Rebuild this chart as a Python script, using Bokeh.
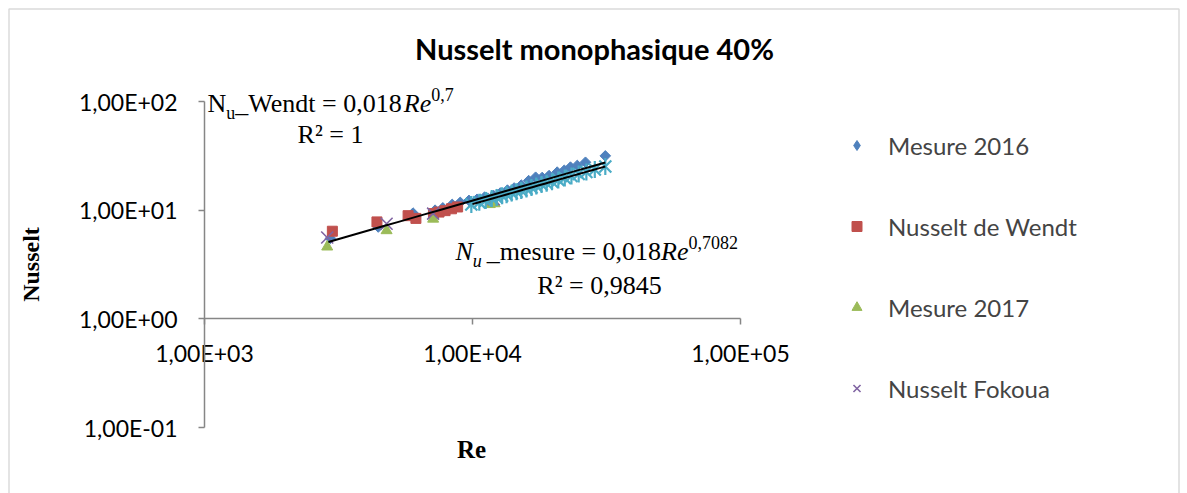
import math
from bokeh.plotting import figure
from bokeh.models import (Range1d, FixedTicker, CustomJSTickFormatter, Label,
                          Legend, LegendItem, BoxAnnotation)
from bokeh.embed import file_html
from bokeh.resources import INLINE

# ---------------- data ----------------
re_2016 = [2950, 4450, 6000, 7250, 7750, 8400, 9000, 9700, 10400, 11100, 12000, 12700,
           13500, 14300, 15200, 16200, 17200, 18200, 19300, 20700, 22000, 23200, 24600,
           26400, 31300]
nu_2016 = [5.5, 7.0, 9.4, 10.0, 10.5, 11.3, 11.8, 12.3, 12.6, 13.2, 13.6, 14.4,
           15.3, 16.0, 17.0, 18.7, 20.1, 20.0, 20.8, 22.4, 23.3, 24.9, 25.8,
           27.6, 31.6]

re_wendt = [3000, 4400, 5750, 6150, 7150, 7500, 7900, 8350, 8800]
nu_wendt = [6.4, 7.8, 8.9, 8.4, 9.3, 9.6, 9.9, 10.3, 10.7]

re_2017 = [2870, 4780, 7130, 11600, 12100]
nu_2017 = [4.6, 6.5, 8.3, 11.3, 11.5]

re_fokoua = [2870, 4780, 7130, 12000]
nu_fokoua = [5.6, 7.5, 9.3, 12.6]

re_calc = [9900, 10600, 11200, 11800, 12300, 12900, 13400, 14000, 14600, 15200, 15900,
           16600, 17300, 18100, 18900, 19800, 20900, 22100, 23400, 24900, 26600, 28600,
           31300]
nu_calc = [11.3, 11.8, 12.3, 12.8, 13.1, 13.6, 13.9, 14.4, 14.8, 15.2, 15.7,
           16.2, 16.7, 17.2, 17.7, 18.3, 19.0, 19.8, 20.6, 21.5, 22.5, 23.7,
           25.2]

# trendlines as given by their displayed equations: Nu = a * Re^b over [Re_min, Re_max]
trend_a = [0.018, 0.018]
trend_b = [0.7082, 0.7]
trend_re_min = [2900, 10000]
trend_re_max = [31300, 31300]

x_ticks = [1e3, 1e4, 1e5]
y_ticks = [0.1, 1, 10, 100]

series_names = ["Mesure 2016", "Nusselt de Wendt", "Mesure 2017", "Nusselt Fokoua"]

# ---------------- layout geometry (page pixels) ----------------
W, H = 1187, 493
AX_L, AX_R = 204, 740          # page x of Re = 1e3 and 1e5
AX_T, AX_B = 101, 427          # page y of Nu = 1e2 and 1e-1
DX = (AX_R - AX_L) / 2         # px per decade
DY = (AX_B - AX_T) / 3

x_lo = 10 ** (3 - AX_L / DX)
x_hi = 10 ** (5 + (W - AX_R) / DX)
y_hi = 10 ** (2 + AX_T / DY)
y_lo = 10 ** (-1 - (H - AX_B) / DY)

p = figure(width=W, height=H, x_axis_type="log", y_axis_type="log",
           x_range=Range1d(x_lo, x_hi), y_range=Range1d(y_lo, y_hi),
           output_backend="svg", toolbar_location=None,
           min_border_left=0, min_border_right=0, min_border_top=0, min_border_bottom=0)
p.grid.visible = False
p.outline_line_color = None
p.background_fill_color = "white"
p.border_fill_color = "white"


def X(px):
    return 10 ** (3 + (px - AX_L) / DX)


def Y(py):
    return 10 ** (2 - (py - AX_T) / DY)


# chart-area border (its bottom edge lies below the visible window)
BORDER = "#868686"
p.add_layout(BoxAnnotation(left=X(8.5), right=X(1178.5), top=Y(8.5), bottom=Y(700),
                           fill_alpha=0, line_color=BORDER, line_width=1.5))

fmt = CustomJSTickFormatter(code="""
const e = Math.round(Math.log10(tick));
const m = tick / Math.pow(10, e);
const a = Math.abs(e);
return m.toFixed(2).replace('.', ',') + 'E' + (e < 0 ? '-' : '+') + (a < 10 ? '0' : '') + a;
""")

AXC = "#868686"
for ax in (p.xaxis[0], p.yaxis[0]):
    ax.formatter = fmt
    ax.axis_line_color = AXC
    ax.major_tick_line_color = AXC
    ax.minor_tick_line_color = None
    ax.major_tick_in = 0
    ax.major_tick_out = 6
    ax.major_label_text_font = "Lato"
    ax.major_label_text_font_size = "23px"
    ax.major_label_text_color = "black"
    ax.axis_line_width = 1.5
    ax.major_tick_line_width = 1.5

p.xaxis[0].ticker = FixedTicker(ticks=x_ticks, minor_ticks=[])
p.yaxis[0].ticker = FixedTicker(ticks=y_ticks, minor_ticks=[])
p.xaxis[0].fixed_location = 1
p.xaxis[0].bounds = (x_ticks[0], x_ticks[-1])
p.xaxis[0].major_label_standoff = 14
p.xaxis[0].axis_label = None
p.yaxis[0].fixed_location = 1e3
p.yaxis[0].bounds = (y_ticks[0], y_ticks[-1])
p.yaxis[0].major_label_standoff = 21
p.yaxis[0].axis_label = "Nusselt"
p.yaxis[0].axis_label_text_font = "Liberation Serif"
p.yaxis[0].axis_label_text_font_style = "bold"
p.yaxis[0].axis_label_text_font_size = "24px"
p.yaxis[0].axis_label_text_color = "black"
p.yaxis[0].axis_label_standoff = 32

# ---------------- marks ----------------
BLUE, RED, GREEN, PURPLE, CYAN = "#4F81BD", "#C0504D", "#9BBB59", "#8064A2", "#4BACC6"
p.scatter(re_2016, nu_2016, marker="square", angle=math.pi / 4, size=7.5,
          fill_color=BLUE, line_color=BLUE)
r_wendt = p.scatter(re_wendt, nu_wendt, marker="square", size=10,
                    fill_color=RED, line_color=RED)
r_2017 = p.scatter(re_2017, nu_2017, marker="triangle", size=11,
                   fill_color=GREEN, line_color=GREEN)
r_fok = p.scatter(re_fokoua, nu_fokoua, marker="x", size=17, line_width=1.6,
                  line_color=PURPLE)
p.scatter(re_calc, nu_calc, marker="x", size=17, line_width=2.2, line_color=CYAN)
p.scatter(re_calc, nu_calc, marker="dash", angle=math.pi / 2, size=17, line_width=2.2,
          line_color=CYAN)

for a, b, lo, hi in zip(trend_a, trend_b, trend_re_min, trend_re_max):
    xs = [lo * (hi / lo) ** (i / 20) for i in range(21)]
    ys = [a * x ** b for x in xs]
    p.line(xs, ys, line_color="black", line_width=2)

# legend proxy for the diamond symbol (legend glyphs ignore marker angle);
# its single point lies outside the visible ranges
r_2016_key = p.scatter(x=[x_hi * 10], y=[y_hi * 10], marker="diamond", size=12,
                       fill_color=BLUE, line_color=BLUE)

ROW, GAP = 30, 51
legend = Legend(items=[LegendItem(label=n, renderers=[r]) for n, r in
                       zip(series_names, [r_2016_key, r_wendt, r_2017, r_fok])],
                location=(844, H - (130 + 4 * ROW + 3 * GAP)),
                padding=0, margin=0, spacing=GAP,
                glyph_width=25, glyph_height=ROW, label_height=ROW, label_standoff=19,
                label_text_font="Lato", label_text_font_size="24px",
                border_line_color=None, background_fill_alpha=0)
p.add_layout(legend)

# ---------------- texts ----------------
TW = {'N': 722, 'u': 500, '_': 500, 'W': 944, 'e': 444, 'n': 500, 'd': 500, 't': 278,
      ' ': 250, '=': 564, ',': 250, 'R': 667, 'm': 778, 's': 389, 'r': 333, '²': 300}
TWI = {'N': 667, 'u': 500, 'R': 611, 'e': 444}


def tw(s, size, italic=False):
    tot = 0
    for c in s:
        if c.isdigit():
            tot += 500
        else:
            tot += (TWI if italic else TW).get(c, 500)
    return tot * size / 1000


BASE_FIX = {"Liberation Serif": 0.32, "Lato": 0.40}   # empirical baseline correction


def label(px, py, text, size, style="normal", font="Liberation Serif", align="left"):
    py = py - BASE_FIX[font] * size
    p.add_layout(Label(x=X(px), y=Y(py), text=text, text_font=font,
                       text_font_size=f"{size}px", text_font_style=style,
                       text_color="black", text_align=align, text_baseline="alphabetic"))


def rich(px, py, pieces):
    for text, size, style, dy, gap in pieces:
        px += gap
        label(px, py + dy, text, size, style)
        px += tw(text, size, "italic" in style)


S, s = 26, 18
rich(207, 111, [("N", S, "normal", 0, 0), ("u", s, "normal", 7, 0),
                ("_Wendt = 0,018", S, "normal", 0, 0), ("Re", S, "italic", 0, 0),
                ("0,7", s, "normal", -11, 0)])
label(330, 142, "R² = 1", S, align="center")

rich(455, 259, [("N", S, "italic", 0, 0), ("u", s, "italic", 7, 0),
                ("_mesure = 0,018", S, "normal", 0, 5), ("Re", S, "italic", 0, 0),
                ("0,7082", s, "normal", -11, 0)])
label(599, 293, "R² = 0,9845", S, align="center")

label(594, 60, "Nusselt monophasique 40%", 29, style="bold", font="Lato", align="center")
label(471, 457, "Re", 25, style="bold", align="center")

open("out.html", "w").write(file_html(p, INLINE))
